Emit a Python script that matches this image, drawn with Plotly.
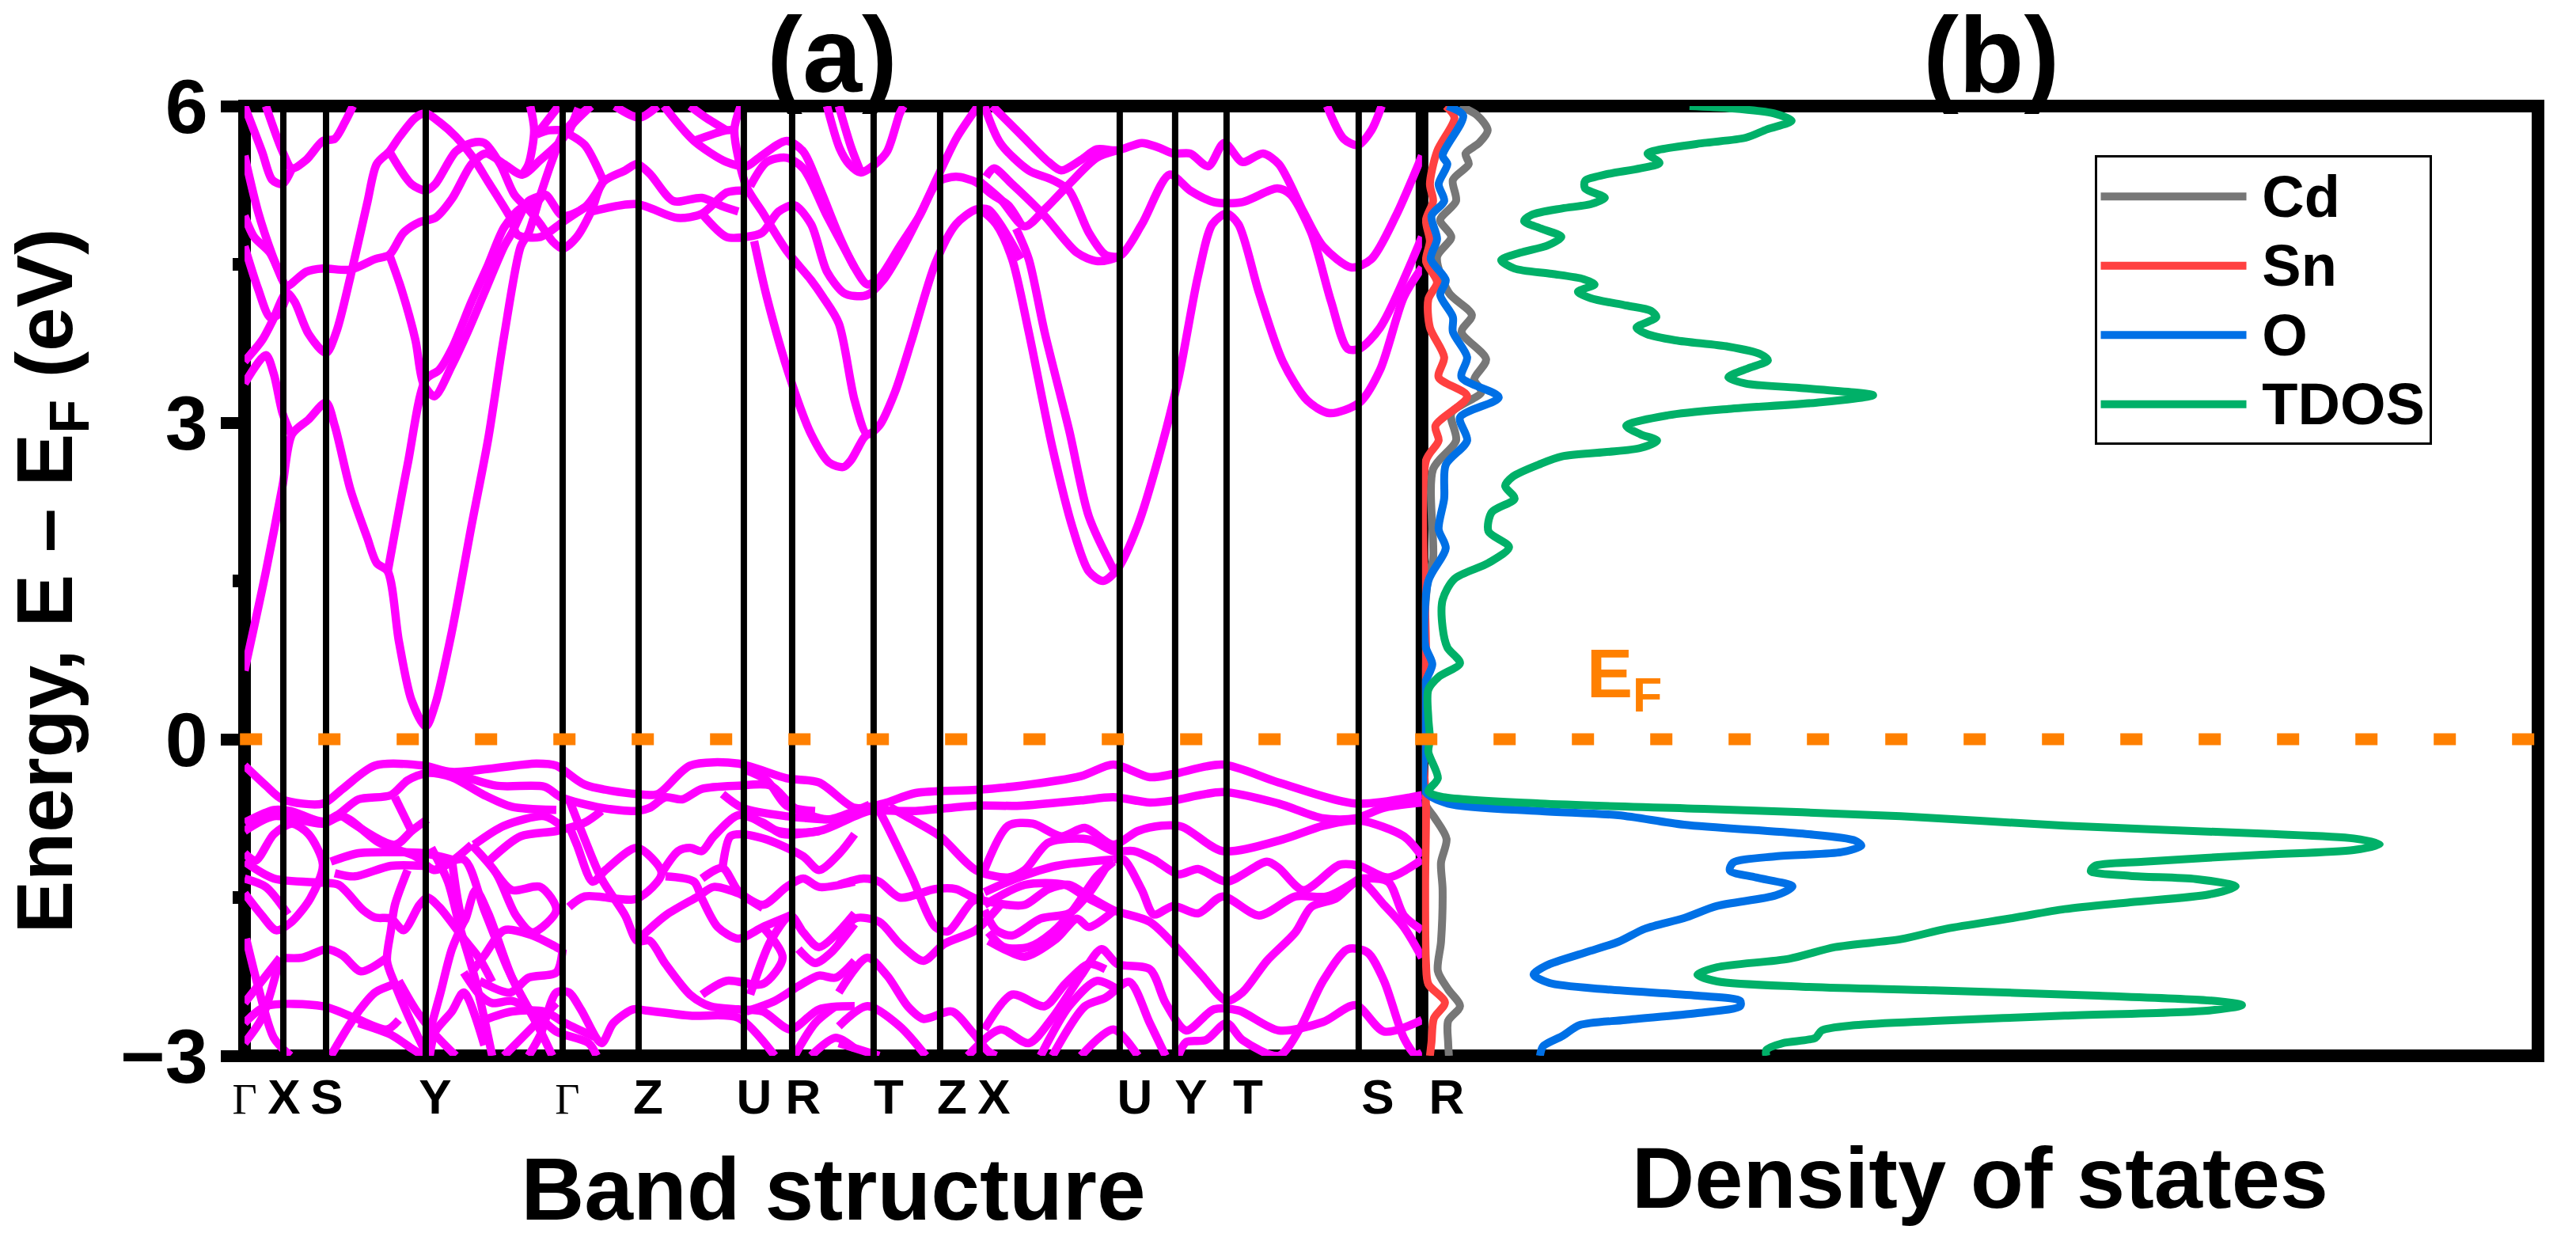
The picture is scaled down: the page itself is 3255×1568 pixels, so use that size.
import plotly.graph_objects as go

# k-path (arbitrary path-length units)
k_high_symmetry = [49, 103, 229, 402, 498, 631, 692, 795, 879, 929, 1106, 1176, 1241, 1408]
k_label_positions = [0, 50, 104, 241, 408, 510, 644, 706, 814, 894, 947, 1125, 1196, 1268, 1432]
k_labels = ["Γ", "X", "S", "Y", "Γ", "Z", "U", "R", "T", "Z", "X", "U", "Y", "T", "S"]
k_end = 1488

conduction_bands = [
    [(0,0.65),(27,1.59),(48,2.40),(60,2.89),(81,3.03),(103,3.19),(114,2.97),(134,2.36),(155,1.91),(167,1.67),(181,1.59),(195,0.93),(211,0.37),(229,0.12),(241,0.33),(262,1.02),(287,2.03),(308,2.85),(328,3.82),(349,4.67),(359,4.80),(374,5.16),(389,5.49),(402,5.73),(423,5.91),(438,6.0)],
    [(0,3.37),(27,3.64),(37,3.46),(48,3.09),(60,2.87)],
    [(0,3.58),(22,3.78),(35,3.96),(53,4.23),(63,4.15),(81,3.84),(103,3.66),(116,3.86),(134,4.39),(155,5.08),(167,5.45),(183,5.57),(196,5.71),(216,5.89),(229,5.93),(246,5.85),(267,5.71),(287,5.53),(308,5.28),(336,4.94),(345,4.78),(374,4.76),(402,4.90),(430,5.04)],
    [(0,4.96),(12,4.76),(32,4.61),(48,4.35),(53,4.29),(78,4.43),(99,4.46),(134,4.45),(165,4.55),(183,4.59),(201,4.80),(221,4.90),(241,4.94),(262,5.12),(287,5.45),(305,5.55),(328,5.45),(351,5.35),(374,5.49),(400,5.67),(415,5.83),(438,6.0)],
    [(181,1.59),(206,2.60),(229,3.41),(246,3.50),(262,3.70),(287,4.15),(308,4.50),(328,4.85),(349,5.03),(365,5.05),(380,5.16),(402,4.96),(430,5.04),(453,5.28)],
    [(183,4.59),(198,4.27),(216,3.78),(226,3.37),(240,3.25),(262,3.54),(282,3.86),(303,4.23),(328,4.67),(338,4.80),(359,5.10),(380,5.16)],
    [(183,5.57),(211,5.26),(229,5.20),(241,5.26),(267,5.57),(287,5.65),(303,5.65),(323,5.45),(341,5.16),(359,5.02),(374,4.88),(389,4.72),(402,4.65),(420,4.76),(438,5.0),(453,5.28),(481,5.39),(496,5.45),(512,5.36),(542,5.10),(578,5.13),(604,5.05),(624,5.0)],
    [(0,6.0),(22,5.57),(35,5.30),(48,5.26),(60,5.41)],
    [(27,6.0),(48,5.57),(60,5.41),(78,5.49),(99,5.67),(114,5.69),(127,5.85),(137,6.0)],
    [(0,5.53),(17,5.0),(35,4.59),(48,4.35)],
    [(0,4.67),(17,4.27),(32,4.0),(42,4.02),(53,4.19)],
    [(361,6.0),(366,5.77),(359,5.45),(351,5.35)],
    [(369,5.73),(385,5.77),(410,5.77)],
    [(369,5.73),(397,6.0)],
    [(410,5.75),(422,5.98)],
    [(411,5.73),(430,5.63),(453,5.30)],
    [(438,5.0),(496,5.07),(547,4.94),(578,4.98),(609,5.18),(627,5.20)],
    [(578,4.98),(609,4.76),(634,4.76),(654,4.80),(675,5.0),(695,5.06),(716,4.88),(736,4.43),(757,4.23),(771,4.20),(787,4.21),(807,4.35),(833,4.67),(858,5.04),(876,5.33),(900,5.70),(927,6.0)],
    [(468,6.0),(499,5.89),(522,6.0)],
    [(530,6.0),(568,5.67),(609,5.47),(634,5.43),(650,5.51),(685,5.67),(706,5.57),(726,5.24),(752,4.76),(771,4.47),(787,4.31),(802,4.37),(828,4.67),(853,4.96),(876,5.28),(899,5.33),(924,5.28),(945,5.16),(965,5.06),(981,4.88)],
    [(568,5.67),(609,5.77),(621,5.77)],
    [(563,6.0),(583,5.89),(609,5.77)],
    [(627,6.0),(619,5.77),(634,5.24),(654,5.0),(685,4.63),(716,4.35),(731,4.19),(751,3.94),(771,3.21),(787,2.89),(802,2.97),(822,3.29),(843,3.78),(873,4.51),(899,4.88),(924,5.02),(940,5.02),(955,4.88),(981,4.55)],
    [(639,5.24),(660,5.47),(685,5.51),(706,5.41),(736,4.96),(771,4.47)],
    [(644,4.72),(660,4.19),(690,3.41),(716,2.89),(739,2.62),(757,2.58),(766,2.64),(782,2.85),(787,2.89)],
    [(736,6.0),(752,5.6),(764,5.45),(779,5.37),(797,5.45),(812,5.57),(828,5.93),(833,6.0)],
    [(751,6.0),(767,5.60),(779,5.37)],
    [(935,6.0),(955,5.65),(991,5.39),(1021,5.30),(1042,5.20),(1067,4.80),(1088,4.59),(1103,4.57)],
    [(945,6.0),(981,5.73),(1016,5.47),(1032,5.39),(1057,5.49),(1077,5.59),(1103,5.58),(1134,5.65),(1154,5.61),(1174,5.55),(1195,5.55),(1218,5.43),(1238,5.65),(1261,5.47),(1287,5.55),(1307,5.45),(1338,5.0),(1363,4.67),(1399,4.47),(1424,4.55),(1455,4.96),(1488,5.53)],
    [(937,5.33),(947,5.41),(970,5.26),(1011,4.96),(1052,4.61),(1078,4.53),(1108,4.59),(1134,4.88),(1169,5.35),(1195,5.20),(1225,5.09),(1261,5.09),(1305,5.22),(1322,5.16),(1348,4.80),(1373,4.15),(1394,3.70),(1409,3.70),(1435,3.90),(1488,4.76)],
    [(930,5.28),(955,5.12),(986,4.86),(1011,5.02),(1042,5.26),(1077,5.51),(1103,5.58)],
    [(927,5.04),(950,4.88),(970,4.55),(991,3.86),(1021,2.76),(1047,1.99),(1067,1.59),(1085,1.50),(1103,1.61),(1129,2.03),(1154,2.64),(1180,3.41),(1205,4.39),(1223,4.88),(1241,4.98),(1256,4.88),(1282,4.23),(1312,3.58),(1343,3.21),(1371,3.09),(1409,3.19),(1435,3.50),(1465,4.19),(1488,4.47)],
    [(975,4.84),(991,4.55),(1011,3.86),(1042,2.93),(1067,2.11),(1098,1.61)],
    [(1368,6.0),(1389,5.69),(1407,5.63),(1424,5.77),(1437,6.0)],
]

valence_bands = [
    [(0,-0.25),(27,-0.44),(48,-0.57),(99,-0.61),(124,-0.47),(165,-0.25),(226,-0.25),(262,-0.31),(369,-0.23),(394,-0.25),(430,-0.43),(496,-0.52),(522,-0.52),(563,-0.25),(624,-0.23),(685,-0.37),(726,-0.41),(771,-0.65),(807,-0.61),(848,-0.51),(924,-0.48),(981,-0.44),(1057,-0.35),(1098,-0.24),(1144,-0.36),(1174,-0.33),(1236,-0.24),(1307,-0.41),(1404,-0.61),(1488,-0.53)],
    [(0,-0.79),(37,-0.67),(58,-0.68),(99,-0.78),(119,-0.71),(144,-0.57),(185,-0.53),(206,-0.39),(231,-0.32),(262,-0.36),(303,-0.53),(338,-0.64),(394,-0.67)],
    [(262,-0.31),(318,-0.44),(379,-0.45),(400,-0.55),(451,-0.65),(496,-0.68),(512,-0.65),(532,-0.55),(553,-0.57),(578,-0.47),(624,-0.44),(665,-0.44),(695,-0.65),(736,-0.76),(771,-0.68),(790,-0.62)],
    [(604,-0.52),(629,-0.65),(685,-0.73),(736,-0.76)],
    [(629,-0.28),(660,-0.39),(685,-0.63),(721,-0.68)],
    [(639,-0.73),(675,-0.87),(726,-0.87),(771,-0.73),(790,-0.68),(848,-0.68),(924,-0.63),(981,-0.63),(1057,-0.58),(1098,-0.55),(1144,-0.60),(1174,-0.58),(1236,-0.50),(1307,-0.61),(1363,-0.75),(1404,-0.75),(1440,-0.65),(1488,-0.60)],
    [(290,-1.0),(328,-0.82),(379,-0.73),(400,-0.82)],
    [(308,-1.16),(349,-0.92),(394,-0.87),(430,-0.79),(451,-0.68)],
    [(0,-0.87),(37,-0.73),(99,-0.80),(124,-0.73),(170,-0.98),(216,-1.11),(241,-1.24),(287,-1.0)],
    [(0,-1.16),(37,-1.32),(99,-1.36),(119,-1.38),(150,-1.62),(165,-1.69),(185,-1.70),(201,-1.81),(221,-1.57),(231,-1.50),(246,-1.59),(277,-1.89),(297,-2.08),(313,-2.30)],
    [(0,-1.46),(22,-1.67),(40,-1.81),(58,-1.74),(83,-1.51),(99,-1.19),(81,-0.90),(60,-0.80),(37,-0.90),(14,-1.15),(0,-1.08)],
    [(0,-1.32),(27,-1.40),(55,-1.66)],
    [(109,-1.16),(144,-1.08),(185,-1.07),(226,-1.08),(262,-1.14)],
    [(114,-1.27),(139,-1.30),(185,-1.20),(226,-1.20)],
    [(190,-0.55),(211,-0.87)],
    [(124,-0.73),(190,-1.0),(211,-0.87),(231,-0.76)],
    [(206,-1.24),(190,-1.57),(185,-1.81),(180,-2.10),(190,-2.32),(211,-2.69),(231,-3.0)],
    [(195,-2.29),(216,-2.56),(241,-2.80),(267,-3.0)],
    [(45,-2.07),(73,-2.07),(104,-1.99),(124,-2.05),(147,-2.20),(180,-2.07)],
    [(0,-2.69),(27,-2.53),(99,-2.53),(139,-2.64),(180,-2.75),(195,-2.66)],
    [(0,-2.88),(22,-2.64),(45,-2.07)],
    [(2,-1.89),(17,-2.34),(37,-2.83),(58,-3.0)],
    [(0,-2.5),(22,-2.29),(45,-2.07)],
    [(109,-3.0),(129,-2.75),(144,-2.58),(165,-2.40),(190,-2.32)],
    [(144,-2.69),(185,-2.80),(211,-2.93),(226,-3.0)],
    [(234,-3.0),(241,-2.77),(262,-2.58),(277,-2.40),(303,-2.9)],
    [(236,-1.03),(257,-1.35),(272,-1.78),(292,-2.29),(313,-3.0)],
    [(226,-3.0),(234,-2.77),(247,-2.42),(262,-1.99),(277,-1.73)],
    [(262,-1.14),(277,-1.73),(292,-1.43),(308,-1.65),(338,-2.26),(369,-2.69),(389,-3.0)],
    [(241,-1.24),(277,-1.14),(303,-1.62),(333,-2.18),(349,-2.42),(369,-2.69)],
    [(287,-1.0),(318,-1.27),(343,-1.67),(364,-1.83),(394,-1.62),(374,-1.40),(338,-1.43),(318,-1.27)],
    [(402,-2.0),(394,-1.97),(364,-1.86),(328,-1.81),(303,-2.05),(287,-2.21)],
    [(297,-2.29),(336,-2.40),(359,-2.26),(394,-2.21),(402,-1.99)],
    [(277,-2.21),(297,-2.42),(313,-2.50),(338,-2.48),(364,-2.58),(394,-2.77),(435,-2.88),(445,-3.0)],
    [(303,-2.66),(338,-2.58),(379,-2.58),(405,-2.69),(445,-2.83)],
    [(328,-3.0),(369,-2.69),(394,-2.50)],
    [(359,-3.0),(374,-2.80),(394,-2.40),(410,-2.40),(425,-2.56),(451,-2.88),(466,-2.69),(491,-2.56),(507,-2.57),(563,-2.62),(624,-2.64),(670,-3.0)],
    [(410,-1.59),(430,-1.49),(496,-1.51),(527,-1.27),(496,-1.03),(456,-1.24),(440,-1.35),(420,-1.0),(410,-0.82)],
    [(410,-0.57),(430,-0.95),(451,-1.32),(481,-1.67),(496,-1.91),(512,-1.91),(532,-2.13),(563,-2.42),(588,-2.53),(624,-2.56),(655,-2.58),(690,-2.75),(726,-2.56),(771,-2.53)],
    [(496,-1.91),(532,-1.67),(573,-1.49),(593,-1.40),(624,-1.46),(655,-1.57),(685,-1.40),(706,-1.32),(726,-1.40),(771,-1.35)],
    [(532,-1.30),(568,-1.35),(578,-1.51),(598,-1.78),(624,-1.89),(655,-1.78),(690,-1.67)],
    [(604,-1.22),(614,-0.92),(629,-0.90),(660,-0.95),(706,-1.11),(726,-1.24),(752,-1.08),(771,-0.90)],
    [(527,-1.27),(548,-1.06),(563,-1.03),(578,-1.06),(593,-0.92),(624,-0.72),(655,-0.79),(680,-0.90),(726,-0.87)],
    [(578,-1.32),(604,-1.22),(624,-1.44),(655,-1.60)],
    [(578,-2.42),(609,-2.29),(655,-2.32),(680,-2.07),(655,-1.78)],
    [(634,-2.58),(670,-2.48),(700,-2.34),(726,-2.24),(747,-2.26),(771,-2.10)],
    [(639,-2.42),(665,-1.91),(690,-1.67),(706,-1.83),(726,-1.97),(771,-1.65)],
    [(700,-1.99),(721,-2.12),(740,-2.03),(771,-1.75)],
    [(695,-3.0),(721,-2.69),(747,-2.53)],
    [(716,-3.0),(747,-2.83),(771,-2.93)],
    [(751,-1.38),(782,-1.32),(802,-1.35),(828,-1.50),(873,-1.42),(899,-1.42),(924,-1.51),(965,-1.57),(986,-1.57),(1016,-1.42),(1042,-1.38),(1067,-1.49),(1098,-1.62),(1144,-1.73),(1180,-1.99),(1210,-2.24),(1241,-2.48),(1261,-2.40),(1292,-2.10),(1328,-1.83),(1348,-1.59),(1379,-1.51),(1409,-1.34),(1440,-1.57),(1465,-1.78),(1488,-2.07)],
    [(751,-1.94),(771,-1.70),(802,-1.73),(828,-1.94),(858,-2.10),(884,-1.94),(924,-1.81),(955,-1.57)],
    [(798,-0.62),(812,-0.82),(843,-1.30),(873,-1.78),(889,-1.82),(919,-1.54),(935,-1.49)],
    [(815,-0.64),(843,-0.76),(879,-0.92),(924,-1.24),(965,-1.31),(986,-1.24),(1016,-0.98),(1067,-0.95),(1098,-1.06),(1124,-1.06),(1149,-1.14),(1180,-1.28),(1205,-1.23),(1241,-1.35),(1292,-1.16),(1307,-1.22),(1338,-1.43),(1384,-1.19),(1409,-1.20),(1445,-1.31),(1488,-1.14)],
    [(935,-1.24),(965,-0.82),(996,-0.80),(1032,-0.92),(1062,-0.84),(1098,-1.0),(1129,-0.87),(1159,-0.82),(1185,-0.83),(1236,-1.06),(1312,-0.95),(1363,-0.82),(1409,-0.77),(1465,-0.92),(1488,-1.11)],
    [(935,-1.45),(975,-1.32),(1026,-1.20),(1098,-1.14)],
    [(935,-1.57),(986,-1.38),(1037,-1.38),(1062,-1.49),(1098,-1.63)],
    [(935,-1.62),(950,-1.81),(970,-1.86),(1006,-1.70),(1042,-1.65),(1067,-1.46),(1093,-1.16)],
    [(940,-1.83),(960,-1.97),(991,-1.97),(1021,-1.83),(1047,-1.62),(1077,-1.30),(1098,-1.16)],
    [(940,-1.91),(960,-1.99),(986,-2.06),(1026,-1.89),(1052,-1.70),(1067,-1.78),(1098,-1.63)],
    [(1098,-1.14),(1111,-1.14),(1134,-1.43),(1149,-1.66),(1174,-1.58),(1205,-1.65),(1236,-1.49),(1282,-1.67),(1328,-1.49),(1368,-1.49),(1409,-1.32)],
    [(1409,-1.32),(1445,-1.35),(1465,-1.67),(1488,-1.81)],
    [(751,-2.40),(787,-2.07),(812,-2.24),(838,-2.53),(858,-2.65),(894,-2.58),(919,-2.77),(940,-2.96),(950,-3.0)],
    [(751,-2.72),(787,-2.53),(828,-2.72),(861,-3.0)],
    [(751,-2.88),(802,-3.0)],
    [(914,-3.0),(955,-2.75),(991,-2.88),(1021,-2.64),(1057,-2.24),(1083,-1.99),(1103,-2.13),(1144,-2.18),(1164,-2.50),(1190,-2.76),(1225,-2.56),(1256,-2.57),(1307,-2.76),(1363,-2.68),(1404,-2.52),(1440,-2.77),(1488,-2.66)],
    [(935,-2.75),(970,-2.42),(1011,-2.53),(1037,-2.32),(1067,-2.13),(1088,-2.18)],
    [(1006,-3.0),(1042,-2.53),(1077,-2.29),(1103,-2.37)],
    [(1021,-3.0),(1062,-2.53),(1088,-2.45),(1118,-2.30),(1144,-2.69),(1164,-3.0)],
    [(1057,-3.0),(1098,-2.75),(1129,-3.0)],
    [(1180,-3.0),(1190,-2.87),(1215,-2.85),(1241,-2.69),(1261,-2.85),(1307,-3.0),(1333,-2.75),(1363,-2.29),(1394,-1.99),(1419,-2.02),(1440,-2.29),(1465,-2.83),(1480,-2.99),(1488,-2.97)],
]

# Density of states, arbitrary units, listed from the top of the energy window down
tdos_d = [338,387,445,467,436,409,356,302,285,300,276,231,206,206,231,213,177,139,129,150,176,159,124,100,117,164,204,218,197,213,258,289,296,271,284,320,387,427,437,414,387,409,476,570,499,387,311,258,276,297,276,231,177,150,115,105,117,88,84,110,84,41,26,26,32,48,21,8,8,10,8,20,8,24,149,356,605,812,1061,1177,1210,1177,1061,912,850,845,895,978,1028,995,895,812,746,663,605,522,464,373,348,373,480,646,854,1003,1036,995,812,646,547,505,497,456,435,435]
tdos_e = [6.0,5.98,5.93,5.86,5.78,5.70,5.65,5.59,5.55,5.46,5.41,5.35,5.29,5.22,5.13,5.07,5.03,4.97,4.91,4.84,4.76,4.68,4.61,4.54,4.46,4.41,4.36,4.31,4.24,4.18,4.11,4.06,4.0,3.90,3.84,3.78,3.72,3.65,3.59,3.52,3.43,3.37,3.33,3.26,3.19,3.13,3.07,2.97,2.89,2.83,2.76,2.72,2.68,2.61,2.49,2.40,2.28,2.15,1.97,1.82,1.67,1.52,1.32,1.06,0.87,0.72,0.59,0.47,0.20,0.0,-0.12,-0.37,-0.495,-0.545,-0.61,-0.66,-0.73,-0.82,-0.895,-0.94,-0.995,-1.05,-1.095,-1.16,-1.2,-1.25,-1.295,-1.325,-1.395,-1.47,-1.545,-1.61,-1.695,-1.795,-1.895,-1.97,-2.08,-2.16,-2.23,-2.295,-2.345,-2.38,-2.43,-2.48,-2.52,-2.57,-2.62,-2.67,-2.71,-2.76,-2.83,-2.88,-2.945,-3.0]

o_d = [32,52,26,32,21,28,12,19,11,30,23,39,39,57,50,97,48,57,30,28,21,30,8,4,13,3,2,4,33,149,248,331,481,547,555,530,447,393,389,422,468,447,373,331,282,248,207,157,141,161,232,348,402,402,348,257,199,178,153,149]
o_e = [6.0,5.91,5.53,5.45,5.26,5.10,4.96,4.74,4.55,4.35,4.21,4.0,3.86,3.62,3.43,3.24,3.05,2.83,2.60,2.28,1.99,1.81,1.50,0.89,0.71,0.51,-0.2,-0.495,-0.61,-0.68,-0.72,-0.81,-0.895,-0.96,-1.01,-1.07,-1.11,-1.17,-1.245,-1.31,-1.395,-1.48,-1.58,-1.695,-1.795,-1.92,-2.02,-2.145,-2.23,-2.31,-2.37,-2.43,-2.48,-2.53,-2.595,-2.66,-2.71,-2.81,-2.91,-3.0]

cd_d = [48,70,83,72,55,59,39,43,23,37,19,34,63,50,81,66,75,37,43,14,14,8,3,2,2,2,4,16,31,24,26,24,20,33,48,33,33,34]
cd_e = [6.0,5.91,5.77,5.65,5.55,5.45,5.30,5.10,4.92,4.76,4.57,4.23,4.02,3.86,3.60,3.41,3.29,3.09,2.83,2.56,1.71,1.54,1.1,0.49,0.0,-0.2,-0.61,-0.745,-0.945,-1.17,-1.42,-1.92,-2.195,-2.37,-2.53,-2.67,-2.87,-3.0]

sn_d = [30,41,19,10,14,5,10,5,19,8,10,28,21,57,17,21,5,5,2,2,5,4,5,8,29,15,12,10]
sn_e = [6.0,5.89,5.57,5.26,5.10,4.92,4.72,4.53,4.33,4.17,3.90,3.62,3.43,3.25,2.97,2.83,2.64,0.73,0.49,-0.2,-0.61,-1.37,-2.12,-2.32,-2.495,-2.645,-2.87,-3.0]

dos_series = [("Cd", cd_d, cd_e, "#777777"), ("Sn", sn_d, sn_e, "#FF4040"),
              ("O", o_d, o_e, "#0070E6"), ("TDOS", tdos_d, tdos_e, "#00B068")]
dos_range = [0, 1410]
energy_range = [-3, 6]
panel_split = 0.5134

BOLD = dict(family="Liberation Sans", weight=700, color="black")
fig = go.Figure()

for band in conduction_bands + valence_bands:
    fig.add_trace(go.Scatter(x=[p[0] for p in band], y=[p[1] for p in band], mode="lines",
                             line=dict(color="#FF00FF", width=10.5, shape="spline", smoothing=0.8),
                             showlegend=False, hoverinfo="skip", xaxis="x", yaxis="y"))

line_x, line_y = [], []
for k in k_high_symmetry:
    line_x += [k, k, None]
    line_y += [energy_range[0], energy_range[1], None]
fig.add_trace(go.Scatter(x=line_x, y=line_y, mode="lines", line=dict(color="black", width=8),
                         showlegend=False, hoverinfo="skip", xaxis="x", yaxis="y"))

for name, d, e, color in dos_series:
    fig.add_trace(go.Scatter(x=d, y=e, mode="lines",
                             name=f'<span style="font-size:74px">\u2009{name}</span>',
                             line=dict(color=color, width=10, shape="spline", smoothing=0.8),
                             xaxis="x2", yaxis="y"))

gamma = '<span style="font-family:Liberation Serif;font-size:54px;font-weight:400">Γ</span>'
fig.update_layout(
    width=3255, height=1568,
    margin=dict(l=309, r=47.5, t=134, b=234),
    plot_bgcolor="white", paper_bgcolor="white",
    showlegend=True,
    xaxis=dict(domain=[0, panel_split], range=[0, k_end], showgrid=False, zeroline=False, showline=False,
               tickmode="array", tickvals=k_label_positions,
               ticktext=[gamma if t == "Γ" else t for t in k_labels],
               tickangle=0, ticks="", ticklabelstandoff=10,
               tickfont=dict(size=62, **BOLD),
               title=dict(text="Band structure", font=dict(size=111, **BOLD), standoff=44)),
    xaxis2=dict(domain=[panel_split, 1], range=dos_range, showgrid=False, zeroline=False, showline=False,
                tickmode="array", tickvals=[31], ticktext=["R"], tickangle=0, ticks="", ticklabelstandoff=10,
                tickfont=dict(size=62, **BOLD),
                title=dict(text="Density of states", font=dict(size=110, **BOLD), standoff=29)),
    yaxis=dict(range=energy_range, showgrid=False, zeroline=False, showline=False,
               tickmode="linear", tick0=-3, dtick=3, ticks="outside", ticklen=29, tickwidth=15, tickcolor="black",
               tickfont=dict(size=97, **BOLD), ticklabelstandoff=-3,
               minor=dict(dtick=1.5, tick0=-3, ticks="outside", ticklen=14, tickwidth=16, tickcolor="black"),
               title=dict(text="Energy, E \u2013 E<sub>F</sub> (eV)", font=dict(size=100, **BOLD), standoff=44)),
    legend=dict(x=0.8066, y=0.948, xanchor="left", yanchor="top", bgcolor="white", bordercolor="black",
                borderwidth=3, itemwidth=184, font=dict(size=65, **BOLD)),
    shapes=[
        dict(type="rect", xref="paper", yref="paper", x0=0, x1=1, y0=0, y1=1,
             line=dict(color="black", width=16), layer="below"),
        dict(type="line", xref="paper", yref="paper", x0=panel_split, x1=panel_split, y0=0, y1=1,
             line=dict(color="black", width=16), layer="below"),
        dict(type="line", xref="paper", yref="y", x0=-0.002, x1=1, y0=0, y1=0,
             line=dict(color="#FF8000", width=15, dash="28px,71px"), layer="above"),
    ],
    annotations=[
        dict(text="(a)", xref="paper", yref="paper", x=0.2563, y=1.0535, xanchor="center", yanchor="middle",
             showarrow=False, font=dict(size=135, **BOLD)),
        dict(text="(b)", xref="paper", yref="paper", x=0.7614, y=1.0535, xanchor="center", yanchor="middle",
             showarrow=False, font=dict(size=135, **BOLD)),
        dict(text="E<sub>F</sub>", xref="x2", yref="y", x=256, y=0.58, showarrow=False,
             font=dict(size=87, family="Liberation Sans", weight=700, color="#FF8000")),
    ],
)
fig.write_html("out.html", config={"displayModeBar": False}, post_script="document.body.style.margin='0';")
